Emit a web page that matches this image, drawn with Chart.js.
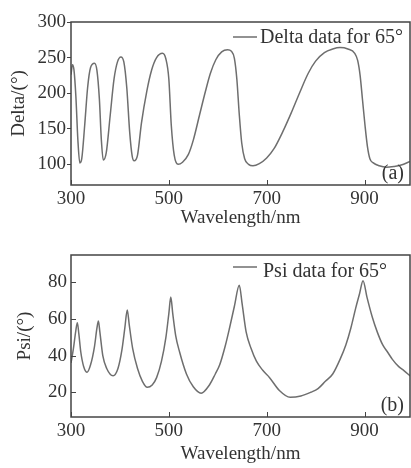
<!DOCTYPE html>
<html>
<head>
<meta charset="utf-8">
<script src="https://cdn.jsdelivr.net/npm/chart.js@4.4.1/dist/chart.umd.min.js"></script>
<style>
  html, body { margin: 0; padding: 0; background: #fff; }
  canvas { display: block; }
</style>
</head>
<body>
<canvas id="deltaChart" width="411" height="234"></canvas>
<canvas id="psiChart" width="411" height="234"></canvas>
<script>
// (a) Delta vs wavelength, 65 deg
const deltaWl = [300, 303, 306, 310, 314, 318, 322, 328, 334, 340, 348, 353, 358, 362, 366, 372, 380, 388, 395, 402,
  408, 414, 420, 425, 429, 436, 444, 455, 465, 475, 487, 494, 500, 505, 511, 519, 528, 540, 550, 563,
  575, 585, 596, 608, 620, 628, 634, 639, 644, 649, 655, 663, 672, 685, 700, 715, 733, 750, 767, 785,
  800, 818, 835, 850, 866, 880, 886, 891, 896, 901, 906, 911, 918, 930, 945, 960, 975, 993];
const deltaVal = [226, 240, 233, 195, 135, 102, 108, 155, 208, 236, 242, 232, 192, 135, 106, 116, 168, 220, 244, 251,
  244, 208, 145, 112, 105, 113, 158, 203, 233, 250, 256, 248, 220, 155, 113, 100, 103, 114, 134, 170,
  203, 228, 247, 258, 261, 259, 249, 220, 170, 130, 108, 100, 98, 101, 109, 122, 146, 172, 200, 228,
  245, 257, 262, 264, 262, 256, 246, 225, 190, 155, 125, 108, 102, 98, 96, 97, 99, 104];

// (b) Psi vs wavelength, 65 deg
const psiWl = [300, 305, 310, 313, 316, 320, 326, 333, 340, 348, 353, 356, 359, 365, 373, 386, 396, 404, 410, 415,
  419, 426, 436, 446, 456, 466, 475, 485, 494, 500, 504, 508, 514, 522, 536, 550, 566, 583, 595, 604,
  615, 624, 634, 644, 650, 658, 668, 679, 692, 706, 726, 748, 770, 790, 805, 820, 835, 850, 862, 872,
  882, 890, 897, 905, 916, 926, 937, 947, 957, 970, 980, 993];
const psiVal = [36, 44, 54, 58, 52, 42, 34, 31, 35, 45, 55, 59, 53, 40, 33, 29, 33, 43, 55, 65,
  57, 44, 33, 26, 22.7, 24, 28, 37, 50, 63, 72, 63, 51, 42, 30, 23, 19.5, 24, 30, 35,
  45, 55, 67, 78.5, 68, 53, 44, 37, 32, 28, 21, 17.3, 18, 20, 22, 26, 30, 38, 46, 55,
  66, 74, 81, 72, 61, 53, 46, 42, 38, 34, 32, 29];

const xTicks = [300, 500, 700, 900];
const deltaTicks = [100, 150, 200, 250, 300];
const psiTicks = [20, 40, 60, 80];

const FONT = 'Liberation Serif';
const TXT = '#333';
const AXIS = '#444';
const LINE = '#6e6e6e';

function toPoints(xs, ys) {
  return xs.map((x, i) => ({ x: x, y: ys[i] }));
}

// box frame, inner tick marks, legend and panel tag
const decor = {
  id: 'decor',
  afterDraw(chart, args, opts) {
    const { ctx, chartArea: a, scales } = chart;
    ctx.save();
    ctx.strokeStyle = AXIS;
    ctx.lineWidth = 1.5;
    ctx.strokeRect(a.left, a.top, a.right - a.left, a.bottom - a.top);
    ctx.lineWidth = 1;
    ctx.beginPath();
    xTicks.forEach(v => {
      const px = Math.round(scales.x.getPixelForValue(v)) + 0.5;
      ctx.moveTo(px, a.bottom);
      ctx.lineTo(px, a.bottom - 5);
    });
    if (opts.innerY) {
      opts.yTicks.forEach(v => {
        const py = Math.round(scales.y.getPixelForValue(v)) + 0.5;
        ctx.moveTo(a.left, py);
        ctx.lineTo(a.left + 5, py);
      });
    }
    ctx.stroke();

    // legend
    ctx.strokeStyle = LINE;
    ctx.lineWidth = 1.5;
    ctx.beginPath();
    ctx.moveTo(233, opts.legLineY);
    ctx.lineTo(257, opts.legLineY);
    ctx.stroke();
    ctx.fillStyle = TXT;
    ctx.font = '20px "' + FONT + '"';
    ctx.textBaseline = 'middle';
    ctx.textAlign = 'left';
    ctx.fillText(opts.legend, opts.legX, opts.legTextY);

    ctx.textAlign = 'right';
    ctx.fillText(opts.tag, a.right - 6, a.bottom - 11);
    ctx.restore();
  }
};

function makeChart(id, xs, ys, yMin, yMax, yTicks, yTitle, yTitlePad, top, xHeight, xTitlePad, decorOpts) {
  return new Chart(document.getElementById(id), {
    type: 'line',
    data: {
      datasets: [{
        data: toPoints(xs, ys),
        borderColor: LINE,
        borderWidth: 1.5,
        pointRadius: 0,
        fill: false,
        cubicInterpolationMode: 'monotone'
      }]
    },
    options: {
      responsive: false,
      animation: false,
      devicePixelRatio: 1,
      layout: { padding: { top: top, right: 1, left: 0, bottom: 0 } },
      plugins: {
        legend: { display: false },
        tooltip: { enabled: false },
        decor: decorOpts
      },
      scales: {
        x: {
          type: 'linear',
          min: 300,
          max: 993,
          afterBuildTicks: s => { s.ticks = xTicks.map(v => ({ value: v })); },
          afterFit: s => { s.height = xHeight; },
          grid: { display: false, drawTicks: false },
          border: { display: false },
          ticks: { color: TXT, font: { family: FONT, size: 19 }, padding: 3, maxRotation: 0, autoSkip: false },
          title: {
            display: true,
            text: 'Wavelength/nm',
            color: TXT,
            font: { family: FONT, size: 19 },
            padding: { top: 0, bottom: xTitlePad }
          }
        },
        y: {
          min: yMin,
          max: yMax,
          afterBuildTicks: s => { s.ticks = yTicks.map(v => ({ value: v })); },
          afterFit: s => { s.width = 71; },
          grid: {
            display: !decorOpts.innerY,
            drawOnChartArea: false,
            drawTicks: true,
            tickLength: 4,
            color: AXIS
          },
          border: { display: false },
          ticks: { color: TXT, font: { family: FONT, size: 19 }, padding: decorOpts.innerY ? 0 : 1 },
          title: {
            display: true,
            text: yTitle,
            color: TXT,
            font: { family: FONT, size: 19 },
            padding: { top: yTitlePad, bottom: 0 }
          }
        }
      }
    },
    plugins: [decor]
  });
}

makeChart('deltaChart', deltaWl, deltaVal, 71, 300, deltaTicks, 'Delta/(°)', 8, 22, 49, 5,
  { innerY: false, yTicks: deltaTicks, legend: 'Delta data for 65°', legX: 260, legLineY: 37, legTextY: 38, tag: '(a)' });

makeChart('psiChart', psiWl, psiVal, 6.5, 95, psiTicks, 'Psi/(°)', 14, 21, 51, 3,
  { innerY: true, yTicks: psiTicks, legend: 'Psi data for 65°', legX: 263, legLineY: 33, legTextY: 38, tag: '(b)' });
</script>
</body>
</html>
